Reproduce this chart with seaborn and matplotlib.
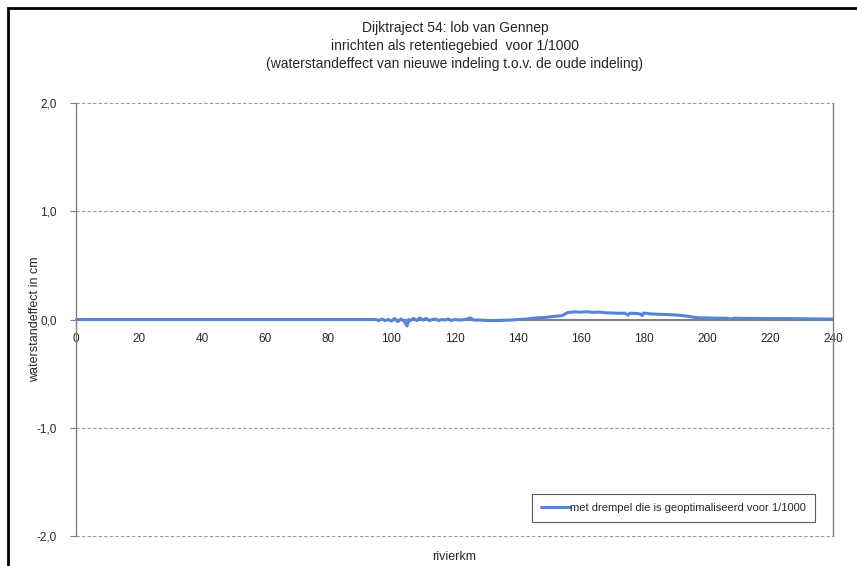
import pandas as pd
import numpy as np
import matplotlib.pyplot as plt
import seaborn as sns
from matplotlib.patches import Rectangle

# rivierkm and waterstandeffect (cm)
km = [0, 94, 95, 96, 97, 98, 99, 100, 101, 102, 103, 104, 105, 105.5, 106, 107,
      108, 109, 110, 111, 112, 113, 114, 115, 116, 117, 118, 119, 120, 122, 124,
      125, 126, 128, 130, 132, 135, 138, 140, 143, 146, 149, 152, 154, 155, 156,
      158, 160, 162, 164, 166, 168, 170, 172, 174, 175, 175.5, 178, 179, 179.5,
      180, 182, 185, 188, 191, 194, 196, 198, 200, 203, 206, 208, 208.5, 212,
      216, 220, 225, 230, 235, 240]
effect = [0.0, 0.0, 0.0, -0.01, 0.005, -0.01, 0.0, -0.015, 0.01, -0.02, 0.005,
          -0.015, -0.06, 0.0, -0.01, 0.01, -0.01, 0.015, -0.005, 0.01, -0.01, 0.0,
          0.005, -0.01, 0.0, -0.005, 0.005, -0.01, 0.0, -0.005, 0.005, 0.015,
          -0.005, -0.005, -0.008, -0.01, -0.008, -0.005, 0.0, 0.005, 0.015, 0.02,
          0.03, 0.035, 0.05, 0.065, 0.07, 0.068, 0.072, 0.066, 0.068, 0.062, 0.06,
          0.058, 0.058, 0.04, 0.058, 0.055, 0.05, 0.035, 0.06, 0.052, 0.048, 0.045,
          0.04, 0.03, 0.02, 0.015, 0.015, 0.012, 0.012, 0.005, 0.012, 0.01, 0.01,
          0.008, 0.008, 0.007, 0.005, 0.004]

x_ticks = list(range(0, 241, 20))
y_ticks = [-2, -1, 0, 1, 2]
y_labels = ['-2,0', '-1,0', '0,0', '1,0', '2,0']
series_name = 'met drempel die is geoptimaliseerd voor 1/1000'

df = pd.DataFrame({'rivierkm': km, 'effect': effect})

sns.set_style('white')
plt.rcParams['font.family'] = ['Liberation Sans', 'DejaVu Sans']

fig = plt.figure(figsize=(8.57, 5.66), dpi=100)
ax = fig.add_axes([76 / 857, 1 - 536 / 566, 757 / 857, 433 / 566])

# outer frame of the chart
fig.patches.append(Rectangle((8 / 857, -0.1), 1.2, 1 - 8 / 566 + 0.1, transform=fig.transFigure,
                             fill=False, edgecolor='black', linewidth=2))

for yv in [-2, -1, 1, 2]:
    ax.axhline(yv, color='#999999', linestyle=(0, (3, 2)), linewidth=0.8, zorder=1, clip_on=False)

sns.lineplot(data=df, x='rivierkm', y='effect', color='#5585d5', linewidth=2.2,
             label=series_name, ax=ax, zorder=3)

ax.set_xlim(0, 240)
ax.set_ylim(-2, 2)
ax.set_xticks(x_ticks)
ax.set_xticklabels([str(t) for t in x_ticks])
ax.set_yticks(y_ticks)
ax.set_yticklabels(y_labels)

ax.spines['top'].set_visible(False)
ax.spines['bottom'].set_position(('data', 0))
ax.spines['bottom'].set_color('#808080')
ax.spines['bottom'].set_linewidth(1.5)
ax.spines['bottom'].set_zorder(2)
for s in ['left', 'right']:
    ax.spines[s].set_color('#808080')
    ax.spines[s].set_linewidth(1)

ax.tick_params(axis='x', length=0, pad=10, labelsize=8.5)
ax.tick_params(axis='y', length=4, color='#808080', labelsize=8.5, pad=10, left=True)

ax.set_xlabel('')
ax.set_ylabel('waterstandeffect in cm', fontsize=9)
ax.yaxis.set_label_coords(-0.046, 0.5)
fig.text((76 + 833) / 2 / 857, 1 - 557 / 566, 'rivierkm', ha='center', va='center', fontsize=9)

fig.text(455 / 857, 1 - 46 / 566,
         'Dijktraject 54: lob van Gennep\ninrichten als retentiegebied  voor 1/1000\n'
         '(waterstandeffect van nieuwe indeling t.o.v. de oude indeling)',
         ha='center', va='center', fontsize=10, linespacing=1.35)

leg = ax.legend(loc='lower right', bbox_to_anchor=(0.976, 0.032), fontsize=8,
                frameon=True, fancybox=False, handlelength=2.6, handletextpad=0.0,
                borderpad=0.8, borderaxespad=0)
leg.get_frame().set_edgecolor('#333333')
leg.get_frame().set_linewidth(0.8)

fig.savefig('out.png', dpi=100)
